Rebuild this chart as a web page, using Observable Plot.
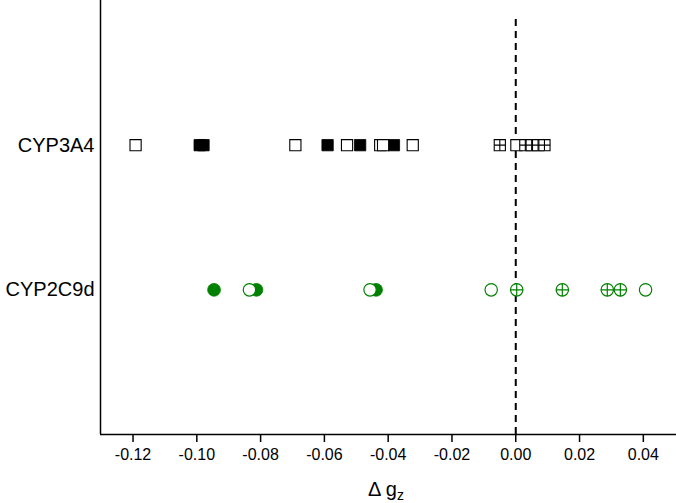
<!DOCTYPE html>
<html>
<head>
<meta charset="utf-8">
<script src="https://cdn.jsdelivr.net/npm/d3@7"></script>
<script src="https://cdn.jsdelivr.net/npm/@observablehq/plot@0.6"></script>
<style>
  html, body { margin: 0; padding: 0; background: #fff; }
  #chart svg { display: block; }
</style>
</head>
<body>
<div id="chart"></div>
<script>
// Categories (y positions as row index)
const categories = ["CYP2C9d", "CYP3A4"];
const rowOf = {"CYP2C9d": 1, "CYP3A4": 2};

// Δg_z values
const cyp3a4Filled  = [-0.0991, -0.0979, -0.0590, -0.0488, -0.0382];
const cyp3a4Open    = [-0.1192, -0.0691, -0.0529, -0.0425, -0.0416, -0.0323, 0.0002];
const cyp3a4Crossed = [-0.0050, 0.0030, 0.0050, 0.0070, 0.0090];

const cyp2c9Filled  = [-0.0946, -0.0813, -0.0438];
const cyp2c9Open    = [-0.0835, -0.0457, -0.0077, 0.0407];
const cyp2c9Crossed = [0.0003, 0.0146, 0.0287, 0.0328];

const xTicks = [-0.12, -0.10, -0.08, -0.06, -0.04, -0.02, 0.00, 0.02, 0.04];
const xDomain = [-0.1302, 0.0504];

const rows = (vals, cat) => vals.map(v => ({x: v, y: rowOf[cat]}));

const green = "#008000";

const chart = Plot.plot({
  width: 676,
  height: 503,
  marginLeft: 100,
  marginRight: 0,
  marginTop: 0,
  marginBottom: 69,
  style: {fontFamily: "'Liberation Sans', Arial, sans-serif", background: "#fff", color: "#000"},
  x: {type: "linear", domain: xDomain},
  y: {type: "linear", domain: [0, 3]},
  marks: [
    // dashed zero line
    Plot.ruleX([0], {y1: 0, y2: 2.9, stroke: "#000", strokeWidth: 2, strokeDasharray: "7,5"}),
    // CYP3A4 squares
    Plot.dot(rows(cyp3a4Filled, "CYP3A4"), {x: "x", y: "y", symbol: "square", r: 6.4, fill: "#000", stroke: "#000", strokeWidth: 0.8}),
    Plot.dot(rows(cyp3a4Open, "CYP3A4"), {x: "x", y: "y", symbol: "square", r: 6.3, fill: "#fff", stroke: "#000", strokeWidth: 1.1}),
    ...cyp3a4Crossed.map(v => [
      Plot.dot(rows([v], "CYP3A4"), {x: "x", y: "y", symbol: "square", r: 6.3, fill: "#fff", stroke: "#000", strokeWidth: 1.1}),
      Plot.dot(rows([v], "CYP3A4"), {x: "x", y: "y", symbol: "plus", r: 3.7, stroke: "#000", strokeWidth: 1.1})
    ]).flat(),
    // CYP2C9d circles
    Plot.dot(rows(cyp2c9Filled, "CYP2C9d"), {x: "x", y: "y", symbol: "circle", r: 6.4, fill: green, stroke: green, strokeWidth: 0.8}),
    Plot.dot(rows(cyp2c9Open, "CYP2C9d"), {x: "x", y: "y", symbol: "circle", r: 6.2, fill: "#fff", stroke: green, strokeWidth: 1.2}),
    ...cyp2c9Crossed.map(v => [
      Plot.dot(rows([v], "CYP2C9d"), {x: "x", y: "y", symbol: "circle", r: 6.2, fill: "#fff", stroke: green, strokeWidth: 1.2}),
      Plot.dot(rows([v], "CYP2C9d"), {x: "x", y: "y", symbol: "plus", r: 4.2, stroke: green, strokeWidth: 1.2})
    ]).flat(),
    // frame: left and bottom
    Plot.ruleX([xDomain[0]], {stroke: "#000", strokeWidth: 1.5}),
    Plot.ruleY([0], {stroke: "#000", strokeWidth: 1.5}),
    // axes
    Plot.axisX({ticks: xTicks, tickFormat: d => d.toFixed(2), tickSize: 8, tickPadding: 6, fontSize: 16, label: null, strokeWidth: 1.5}),
    Plot.axisY({ticks: [1, 2], tickFormat: d => categories[d - 1], tickSize: 0, tickPadding: 6, fontSize: 20, label: null})
  ]
});

document.getElementById("chart").appendChild(chart);

// x-axis title with subscript
const svg = d3.select(chart);
const t = svg.append("text")
  .attr("x", 386)
  .attr("y", 496)
  .attr("text-anchor", "middle")
  .attr("font-size", 20)
  .attr("font-family", "'Liberation Sans', Arial, sans-serif")
  .attr("fill", "#000");
t.append("tspan").text("Δ g");
t.append("tspan").attr("font-size", 14).attr("dy", 4).text("z");
</script>
</body>
</html>
